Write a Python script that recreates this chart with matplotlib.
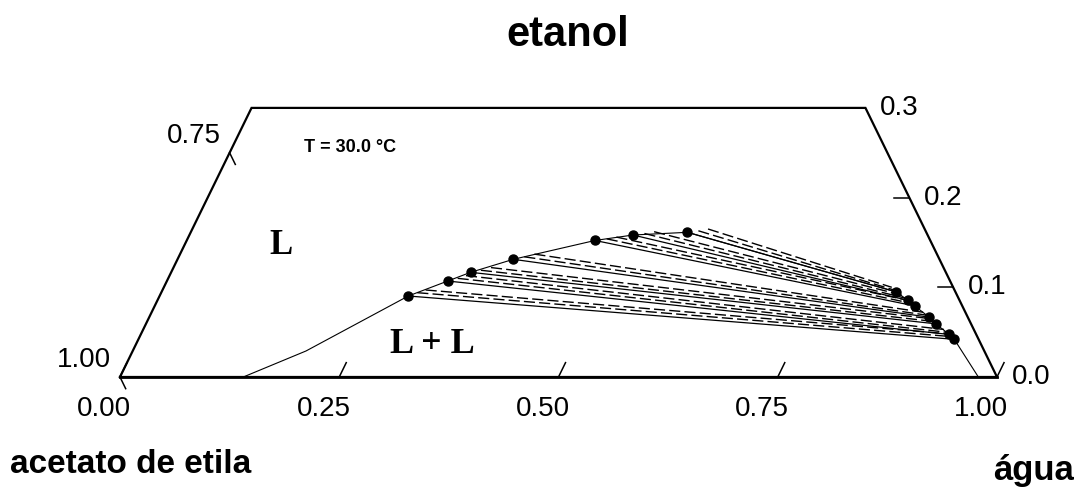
import matplotlib
matplotlib.use("Agg")
import matplotlib.pyplot as plt
import numpy as np

# ---------------- data (mass fractions: water, ethanol) ----------------
# experimental tie-line ends, organic (ethyl-acetate-rich) phase
org_water = [0.2836, 0.3202, 0.3415, 0.3829, 0.4655, 0.5058, 0.5664]
org_eth   = [0.0903, 0.1070, 0.1167, 0.1312, 0.1522, 0.1583, 0.1613]
# experimental tie-line ends, aqueous phase
aq_water = [0.9303, 0.9221, 0.9003, 0.8893, 0.8666, 0.8558, 0.8378]
aq_eth   = [0.0420, 0.0474, 0.0593, 0.0667, 0.0792, 0.0854, 0.0948]

# calculated tie lines (two models, dashed)
c1_org_water = [0.292, 0.330, 0.352, 0.394, 0.478, 0.518, 0.578]
c1_org_eth   = [0.094, 0.110, 0.119, 0.134, 0.154, 0.160, 0.163]
c1_aq_water  = [0.926, 0.917, 0.896, 0.885, 0.862, 0.851, 0.834]
c1_aq_eth    = [0.045, 0.050, 0.062, 0.069, 0.082, 0.088, 0.097]
c2_org_water = [0.300, 0.338, 0.362, 0.404, 0.488, 0.528, 0.588]
c2_org_eth   = [0.097, 0.113, 0.122, 0.137, 0.156, 0.162, 0.165]
c2_aq_water  = [0.922, 0.913, 0.892, 0.881, 0.858, 0.847, 0.830]
c2_aq_eth    = [0.048, 0.053, 0.065, 0.072, 0.085, 0.091, 0.100]

# binodal end points (besides tie-line ends)
bin_start_water = [0.1406, 0.1976]
bin_start_eth   = [0.0, 0.029]
bin_end_water = [0.9787]
bin_end_eth   = [0.0]

water_ticks = [0.00, 0.25, 0.50, 0.75, 1.00]
water_labels = ["0.00", "0.25", "0.50", "0.75", "1.00"]
acet_ticks = [1.00, 0.75]
acet_labels = ["1.00", "0.75"]
eth_ticks = [0.0, 0.1, 0.2, 0.3]
eth_labels = ["0.0", "0.1", "0.2", "0.3"]
eth_max = 0.3


def tern(water, eth):
    water = np.asarray(water, float)
    eth = np.asarray(eth, float)
    return water + eth / 2.0, eth


fig = plt.figure(figsize=(10.82, 4.91), dpi=100)
ax = fig.add_axes([0, 0, 1, 1])
ax.set_xlim(-0.1368, 1.0969)
ax.set_ylim(-0.1271, 0.4203)
ax.set_axis_off()

sans = "Liberation Sans"
serif = "Liberation Serif"

# frame (truncated triangle)
fw = [0.0, 1.0, 1.0 - eth_max, 0.0, 0.0]
fe = [0.0, 0.0, eth_max, eth_max, 0.0]
X, Y = tern(fw, fe)
ax.plot(X, Y, color="black", lw=1.6, solid_joinstyle="miter", zorder=3)
Xb, Yb = tern([0.0, 1.0], [0.0, 0.0])
ax.plot(Xb, Yb, color="black", lw=2.0, zorder=3)

# water ticks (parallel to left edge) + labels
for w, lab in zip(water_ticks, water_labels):
    tx, ty = tern([w, w], [0.0, 0.016])
    ax.plot(tx, ty, color="black", lw=1.1, zorder=3)
    lx, ly = tern(w, -0.036)
    ax.text(lx, ly, lab, ha="center", va="center", fontsize=20, family=sans)

# acetate ticks (parallel to right edge) + labels
for a, lab in zip(acet_ticks, acet_labels):
    e0 = 1.0 - a
    tx, ty = tern([0.0, 0.013], [e0, e0 - 0.013])
    ax.plot(tx, ty, color="black", lw=1.1, zorder=3)
    lx, ly = tern(0.0, e0)
    ax.text(lx - 0.010, ly + 0.019, lab, ha="right", va="center",
            fontsize=20, family=sans)

# ethanol ticks (horizontal) + labels
for e, lab in zip(eth_ticks, eth_labels):
    tx, ty = tern([1.0 - e, 1.0 - e - 0.017], [e, e])
    ax.plot(tx, ty, color="black", lw=1.1, zorder=3)
    lx, ly = tern(1.0 - e, e)
    ax.text(lx + 0.017, ly, lab, ha="left", va="center",
            fontsize=20, family=sans)

# binodal curve
bw = bin_start_water + org_water + aq_water[::-1] + bin_end_water
be = bin_start_eth + org_eth + aq_eth[::-1] + bin_end_eth
bx, by = tern(bw, be)
ax.plot(bx, by, color="black", lw=0.8, zorder=2)

# calculated tie lines (dashed)
for ow, oe, aw, ae in [(c1_org_water, c1_org_eth, c1_aq_water, c1_aq_eth),
                       (c2_org_water, c2_org_eth, c2_aq_water, c2_aq_eth)]:
    for i in range(len(ow)):
        x, y = tern([ow[i], aw[i]], [oe[i], ae[i]])
        ax.plot(x, y, color="black", lw=1.0, dashes=(8, 3), zorder=2)

# experimental tie lines
for i in range(len(org_water)):
    x, y = tern([org_water[i], aq_water[i]], [org_eth[i], aq_eth[i]])
    ax.plot(x, y, color="black", lw=0.9, zorder=2)

ox, oy = tern(org_water, org_eth)
ax.plot(ox, oy, "o", color="black", ms=6.5, zorder=4)
axx, ayy = tern(aq_water, aq_eth)
ax.plot(axx, ayy, "o", color="black", ms=6.5, zorder=4)

# texts
fig.text(568 / 1082, 1 - 46 / 491, "etanol", ha="center", va="baseline",
         fontsize=30, fontweight="bold", family=sans)
fig.text(10 / 1082, 1 - 473 / 491, "acetato de etila", ha="left", va="baseline",
         fontsize=24, fontweight="bold", family=sans)
fig.text(993 / 1082, 1 - 480 / 491, "água", ha="left", va="baseline",
         fontsize=25, fontweight="bold", family=sans)

tx, ty = tern(0.1347, 0.2553)
ax.text(tx, ty, "T = 30.0 °C", ha="center", va="center", fontsize=13,
        fontweight="bold", family=sans)
tx, ty = tern(0.110, 0.147)
ax.text(tx, ty, "L", ha="center", va="center", fontsize=25,
        fontweight="bold", family=serif)
tx, ty = tern(0.338, 0.036)
ax.text(tx, ty, "L + L", ha="center", va="center", fontsize=26,
        fontweight="bold", family=serif)

fig.savefig("out.png", dpi=100)
